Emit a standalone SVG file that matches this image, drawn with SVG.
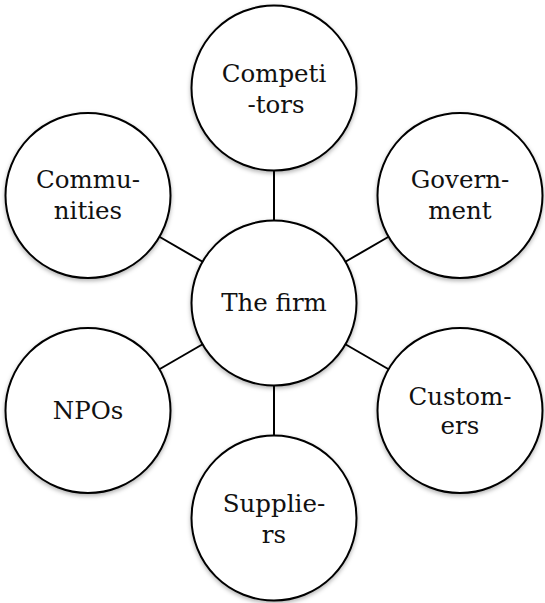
<svg xmlns="http://www.w3.org/2000/svg" width="545" height="603" viewBox="0 0 545 603">
  <style>
    .node circle { fill: #ffffff; stroke: #000000; stroke-width: 2; filter: url(#sh); }
    .node text { font-family: "DejaVu Serif", "Liberation Serif", serif; font-size: 24.5px; fill: #111111; text-anchor: middle; }
    .conn line { stroke: #000000; stroke-width: 2; }
  </style>
  <defs>
    <filter id="sh" x="-20%" y="-20%" width="140%" height="140%">
      <feDropShadow dx="0" dy="2" stdDeviation="2" flood-color="#000" flood-opacity="0.3"/>
    </filter>
  </defs>
  <rect width="545" height="603" fill="#ffffff"/>
  <g id="connectors" class="conn">
    <line x1="274" y1="171" x2="274" y2="221"/>
    <line x1="274" y1="385" x2="274" y2="435"/>
    <line x1="202.6" y1="261.75" x2="159.4" y2="236.75"/>
    <line x1="345.4" y1="261.75" x2="388.6" y2="236.75"/>
    <line x1="202.6" y1="344.25" x2="159.4" y2="369.25"/>
    <line x1="345.4" y1="344.25" x2="388.6" y2="369.25"/>
  </g>
  <g id="competitors" class="node">
    <circle cx="274" cy="88" r="82.5"/>
    <text x="274" y="82">Competi</text>
    <text x="276" y="113">-tors</text>
  </g>
  <g id="firm" class="node">
    <circle cx="274" cy="303" r="82.5"/>
    <text x="274" y="311">The firm</text>
  </g>
  <g id="suppliers" class="node">
    <circle cx="274" cy="518" r="82.5"/>
    <text x="274" y="512">Supplie-</text>
    <text x="274" y="543">rs</text>
  </g>
  <g id="communities" class="node">
    <circle cx="88" cy="195.5" r="82.5"/>
    <text x="88" y="188">Commu-</text>
    <text x="88" y="219">nities</text>
  </g>
  <g id="government" class="node">
    <circle cx="460" cy="195.5" r="82.5"/>
    <text x="460" y="188">Govern-</text>
    <text x="460" y="219">ment</text>
  </g>
  <g id="npos" class="node">
    <circle cx="88" cy="410.5" r="82.5"/>
    <text x="88" y="419">NPOs</text>
  </g>
  <g id="customers" class="node">
    <circle cx="460" cy="410.5" r="82.5"/>
    <text x="460" y="405">Custom-</text>
    <text x="460" y="434">ers</text>
  </g>
</svg>
